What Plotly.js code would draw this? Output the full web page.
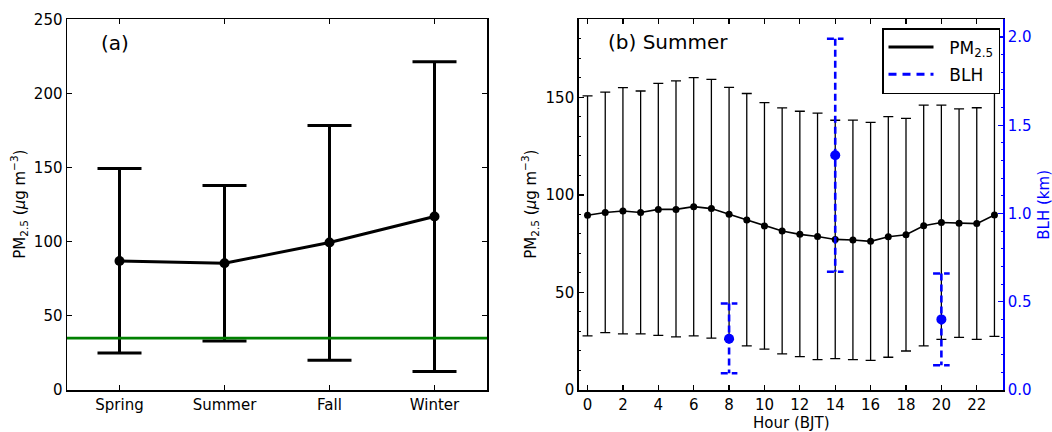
<!DOCTYPE html>
<html>
<head>
<meta charset="utf-8">
<script src="https://cdn.plot.ly/plotly-3.0.1.min.js"></script>
<style>html,body{margin:0;padding:0;background:#fff;}#chart{width:1052px;height:432px;}</style>
</head>
<body>
<div id="chart"></div>
<script>
// ---- Panel (a): seasonal PM2.5 ----
var seasons = ['Spring', 'Summer', 'Fall', 'Winter'];
var seasonMean = [87, 85.5, 99.5, 117];
var seasonUpper = [149.5, 138, 178.5, 221.5];
var seasonLower = [25, 33, 20, 12.5];
var standardPM = 35;

// ---- Panel (b): summer diurnal PM2.5 ----
var hours = [0,1,2,3,4,5,6,7,8,9,10,11,12,13,14,15,16,17,18,19,20,21,22,23];
var hourMean = [89.6, 91.0, 91.8, 91.0, 92.6, 92.6, 94.0, 93.0, 90.1, 87.2, 84.1, 81.5,
                79.8, 78.7, 77.2, 76.9, 76.2, 78.6, 79.6, 84.2, 85.9, 85.5, 85.3, 89.7];
var hourUpper = [150.8, 152.7, 155.0, 153.3, 157.2, 158.5, 160.2, 159.3, 155.1, 152.0, 147.3, 144.6,
                 142.9, 142.0, 138.3, 138.4, 137.2, 140.2, 139.3, 146.1, 146.1, 144.1, 144.7, 152.1];
var hourLower = [27.8, 29.4, 28.8, 28.8, 28.0, 27.2, 27.7, 26.6, 26.0, 22.6, 21.0, 18.5,
                 17.1, 15.6, 16.1, 15.6, 15.2, 16.8, 20.0, 22.6, 26.0, 27.0, 26.0, 27.5];

// ---- BLH (km) ----
var blhHours = [8, 14, 20];
var blhMean = [0.29, 1.33, 0.40];
var blhUpper = [0.49, 1.99, 0.66];
var blhLower = [0.095, 0.67, 0.14];

function diff(a, b) { return a.map(function (v, i) { return v - b[i]; }); }

// Build dashed error-bar paths for BLH from the data arrays
var capHalf = 0.47;
var blhX = [], blhY = [];
blhHours.forEach(function (h, i) {
  blhX.push(h - capHalf, h + capHalf, null); blhY.push(blhUpper[i], blhUpper[i], null);
  blhX.push(h, h, null); blhY.push(blhUpper[i], blhLower[i], null);
  blhX.push(h - capHalf, h + capHalf, null); blhY.push(blhLower[i], blhLower[i], null);
});

var FONT = 'DejaVu Sans, Liberation Sans, sans-serif';
var BLUE = '#0000ff';

var traces = [
  {
    x: seasons, y: seasonMean, xaxis: 'x', yaxis: 'y', type: 'scatter', mode: 'lines+markers',
    line: {color: '#000', width: 3}, marker: {color: '#000', size: 10},
    error_y: {type: 'data', symmetric: false, array: diff(seasonUpper, seasonMean),
              arrayminus: diff(seasonMean, seasonLower), color: '#000', thickness: 3, width: 22},
    showlegend: false, hoverinfo: 'skip'
  },
  {
    x: hours, y: hourMean, xaxis: 'x2', yaxis: 'y2', type: 'scatter', mode: 'lines+markers',
    line: {color: '#000', width: 1.6}, marker: {color: '#000', size: 7},
    error_y: {type: 'data', symmetric: false, array: diff(hourUpper, hourMean),
              arrayminus: diff(hourMean, hourLower), color: '#000', thickness: 1.3, width: 5},
    showlegend: false, hoverinfo: 'skip'
  },
  {
    x: blhX, y: blhY, xaxis: 'x2', yaxis: 'y3', type: 'scatter', mode: 'lines',
    line: {color: BLUE, width: 2.6, dash: '7px,4px'}, showlegend: false,
    connectgaps: false, hoverinfo: 'skip'
  },
  {
    x: blhHours, y: blhMean, xaxis: 'x2', yaxis: 'y3', type: 'scatter', mode: 'markers',
    marker: {color: BLUE, size: 10}, showlegend: false, hoverinfo: 'skip'
  },
  // legend proxies
  {
    x: [null], y: [null], xaxis: 'x2', yaxis: 'y2', type: 'scatter', mode: 'lines',
    line: {color: '#000', width: 3}, name: '  PM<sub>2.5</sub>', legendgroup: 'a', showlegend: true
  },
  {
    x: [null], y: [null], xaxis: 'x2', yaxis: 'y3', type: 'scatter', mode: 'lines',
    line: {color: BLUE, width: 3, dash: '8px,6px'}, name: '  BLH', legendgroup: 'b', showlegend: true
  }
];

var y0 = 1 - 390 / 432, y1 = 1 - 19.4 / 432;
var tickFont = {family: FONT, size: 15, color: '#000'};
var baseAxis = {showgrid: false, zeroline: false, showline: true, linecolor: '#000', linewidth: 1.5,
  ticks: 'inside', ticklen: 5, tickwidth: 1.2, tickcolor: '#000', tickfont: tickFont};

var layout = {
  width: 1052, height: 432,
  margin: {l: 0, r: 0, t: 0, b: 0},
  paper_bgcolor: '#fff', plot_bgcolor: '#fff',
  font: {family: FONT, color: '#000'},
  xaxis: Object.assign({}, baseAxis, {domain: [67 / 1052, 487 / 1052], anchor: 'y', type: 'category',
    range: [-0.5, 3.5], mirror: 'allticks'}),
  yaxis: Object.assign({}, baseAxis, {domain: [y0, y1], anchor: 'x', range: [0, 250], dtick: 50,
    mirror: 'allticks'}),
  xaxis2: Object.assign({}, baseAxis, {domain: [578.7 / 1052, 1003.3 / 1052], anchor: 'y2',
    range: [-0.5, 23.5], dtick: 2, tick0: 0, mirror: 'ticks'}),
  yaxis2: Object.assign({}, baseAxis, {domain: [y0, y1], anchor: 'x2', range: [0, 190], dtick: 50,
    minor: {dtick: 10, ticks: 'inside', ticklen: 2.5, tickcolor: '#000', tickwidth: 1}}),
  yaxis3: Object.assign({}, baseAxis, {domain: [y0, y1], anchor: 'x2', overlaying: 'y2', side: 'right',
    range: [0, 2.1], dtick: 0.5, tickformat: '.1f', linecolor: BLUE, tickcolor: BLUE,
    tickfont: {family: FONT, size: 15, color: BLUE},
    minor: {dtick: 0.1, ticks: 'inside', ticklen: 2.5, tickcolor: BLUE, tickwidth: 1}}),
  showlegend: true,
  legend: {x: 882 / 1052, y: 1 - 28 / 432, xanchor: 'left', yanchor: 'top',
    bgcolor: '#fff', bordercolor: '#000', borderwidth: 1.5, itemwidth: 45,
    font: {family: FONT, size: 17, color: '#000'}, traceorder: 'grouped', tracegroupgap: 2},
  shapes: [
    {type: 'line', xref: 'x domain', yref: 'y', x0: 0, x1: 1, y0: standardPM, y1: standardPM,
     line: {color: '#008000', width: 2.6}, layer: 'above'}
  ],
  annotations: [
    {text: '(a)', xref: 'paper', yref: 'paper', x: 99 / 1052, y: 1 - 43 / 432, xanchor: 'left',
     yanchor: 'middle', showarrow: false, font: {family: FONT, size: 20, color: '#000'}},
    {text: '(b) Summer', xref: 'paper', yref: 'paper', x: 606 / 1052, y: 1 - 42 / 432, xanchor: 'left',
     yanchor: 'middle', showarrow: false, font: {family: FONT, size: 20, color: '#000'}},
    {text: 'PM<sub>2.5</sub> (<i>μ</i>g m<sup>−3</sup>)', xref: 'paper', yref: 'paper', x: 19 / 1052,
     y: (y0 + y1) / 2, xanchor: 'center', yanchor: 'middle', textangle: -90, showarrow: false,
     font: {family: FONT, size: 15, color: '#000'}},
    {text: 'PM<sub>2.5</sub> (<i>μ</i>g m<sup>−3</sup>)', xref: 'paper', yref: 'paper', x: 530 / 1052,
     y: (y0 + y1) / 2, xanchor: 'center', yanchor: 'middle', textangle: -90, showarrow: false,
     font: {family: FONT, size: 15, color: '#000'}},
    {text: 'BLH (km)', xref: 'paper', yref: 'paper', x: 1044 / 1052,
     y: (y0 + y1) / 2, xanchor: 'center', yanchor: 'middle', textangle: -90, showarrow: false,
     font: {family: FONT, size: 15, color: BLUE}},
    {text: 'Hour (BJT)', xref: 'paper', yref: 'paper', x: 791 / 1052, y: 1 - 423 / 432,
     xanchor: 'center', yanchor: 'middle', showarrow: false,
     font: {family: FONT, size: 15, color: '#000'}}
  ]
};

Plotly.newPlot('chart', traces, layout, {staticPlot: true, displayModeBar: false});
</script>
</body>
</html>
